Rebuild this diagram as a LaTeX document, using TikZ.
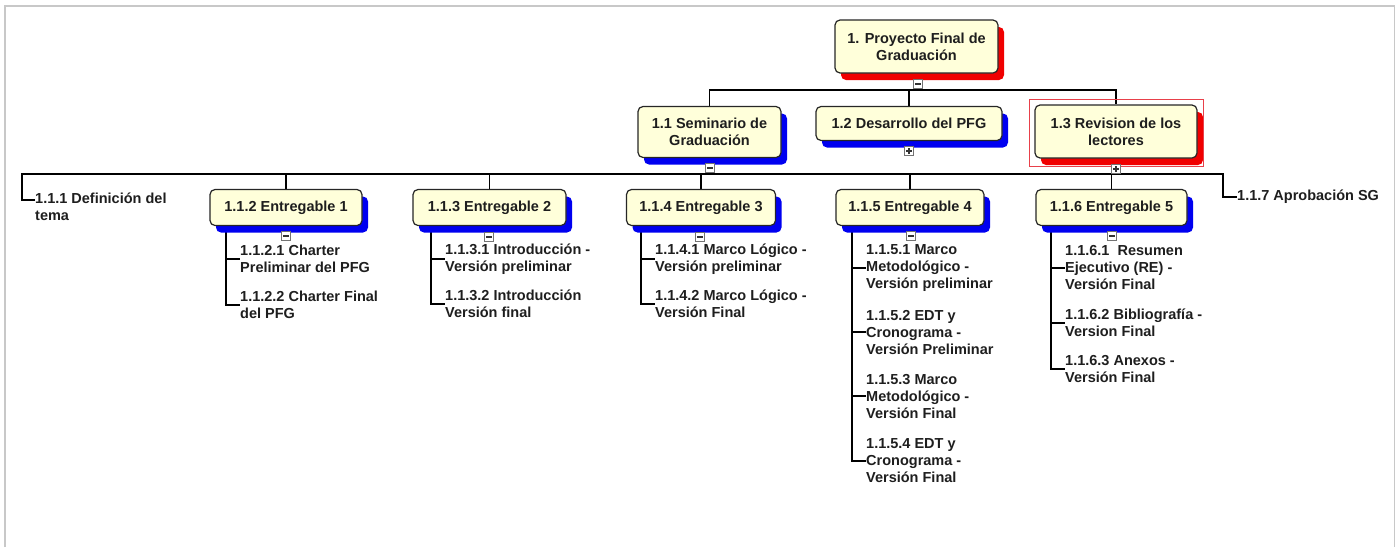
\documentclass[tikz,border=0pt]{standalone}
\usepackage{fontspec}
\setmainfont{Liberation Sans}
\usetikzlibrary{shadows,backgrounds}
\definecolor{boxfill}{RGB}{255,255,218}
\definecolor{shblue}{RGB}{0,0,240}
\definecolor{shred}{RGB}{240,0,0}
\definecolor{framegray}{RGB}{200,200,200}
\definecolor{ink}{RGB}{30,30,30}
\definecolor{hilite}{RGB}{232,64,74}

\begin{document}
\begin{tikzpicture}[x=1pt,y=-1pt,
  every node/.style={font=\fontsize{14.5}{17}\selectfont\bfseries, text=ink},
  wbsbox/.style={draw=black!85, line width=1.2pt, rounded corners=5pt,
    fill=boxfill, align=center, inner sep=0pt},
  blueshadow/.style={drop shadow={shadow xshift=6pt, shadow yshift=-7pt,
    fill=shblue, opacity=1}},
  redshadow/.style={drop shadow={shadow xshift=6pt, shadow yshift=-7pt,
    fill=shred, opacity=1}},
  leaf/.style={align=left, inner sep=0pt, anchor=west},
  link/.style={line width=1.5pt, draw=black},
  marker/.style={rectangle, draw=black!55, fill=white, line width=0.7pt,
    minimum size=9pt, inner sep=0pt},
  minusmark/.style={marker, path picture={
    \draw[black!80, line width=1.1pt]
      ([xshift=-3pt]path picture bounding box.center) --
      ([xshift=3pt]path picture bounding box.center);}},
  plusmark/.style={marker, path picture={
    \draw[black!80, line width=1.1pt]
      ([xshift=-3pt]path picture bounding box.center) --
      ([xshift=3pt]path picture bounding box.center)
      ([yshift=-3pt]path picture bounding box.center) --
      ([yshift=3pt]path picture bounding box.center);}}
]
\useasboundingbox (0,0) rectangle (1395,547);

% window frame
\draw[framegray, line width=2pt] (5,547) -- (5,6) -- (1395,6);
\draw[framegray, line width=1pt] (1394,6) -- (1394,547);

% level 0 and 1
\node[wbsbox, redshadow, minimum width=163pt, minimum height=53pt]
  (n1) at (916.5,46.5) {1. Proyecto Final de\\Graduación};
\node[wbsbox, blueshadow, minimum width=143pt, minimum height=51pt]
  (n11) at (709.5,132) {1.1 Seminario de\\Graduación};
\node[wbsbox, blueshadow, minimum width=186pt, minimum height=34pt]
  (n12) at (909,123.5) {1.2 Desarrollo del PFG};
\node[wbsbox, redshadow, minimum width=162pt, minimum height=53pt]
  (n13) at (1116,131.5) {1.3 Revision de los\\lectores};
\draw[hilite, line width=1.2pt]
  ([xshift=-5pt,yshift=5pt]n13.north west) rectangle
  ([xshift=6pt,yshift=-8pt]n13.south east);

\node[minusmark] (m1) at (918,84) {};
\node[minusmark] (m11) at (710,168) {};
\node[plusmark] (m12) at (909,151) {};
\node[plusmark] (m13) at (1116,169) {};

% level 2 boxes
\node[wbsbox, blueshadow, minimum width=152pt, minimum height=36pt]
  (n112) at (286,207.5) {1.1.2 Entregable 1};
\node[wbsbox, blueshadow, minimum width=153pt, minimum height=36pt]
  (n113) at (489.5,207.5) {1.1.3 Entregable 2};
\node[wbsbox, blueshadow, minimum width=149pt, minimum height=36pt]
  (n114) at (701,207.5) {1.1.4 Entregable 3};
\node[wbsbox, blueshadow, minimum width=148pt, minimum height=36pt]
  (n115) at (910,207.5) {1.1.5 Entregable 4};
\node[wbsbox, blueshadow, minimum width=151pt, minimum height=36pt]
  (n116) at (1111.5,207.5) {1.1.6 Entregable 5};

\node[minusmark] (m112) at (286,236) {};
\node[minusmark] (m113) at (489,237) {};
\node[minusmark] (m114) at (700,237) {};
\node[minusmark] (m115) at (911,236) {};
\node[minusmark] (m116) at (1112,236) {};

% level 2 plain items
\node[leaf] (n111) at (35,207) {1.1.1 Definición del\\tema};
\node[leaf] (n117) at (1237,197) {1.1.7 Aprobación SG};

% level 3 items
\node[leaf] (c1121) at (240,259) {1.1.2.1 Charter\\Preliminar del PFG};
\node[leaf] (c1122) at (240,305) {1.1.2.2 Charter Final\\del PFG};
\node[leaf] (c1131) at (445,259) {1.1.3.1 Introducción -\\Versión preliminar};
\node[leaf] (c1132) at (445,304) {1.1.3.2 Introducción\\Versión final};
\node[leaf] (c1141) at (655,259) {1.1.4.1 Marco Lógico -\\Versión preliminar};
\node[leaf] (c1142) at (655,304) {1.1.4.2 Marco Lógico -\\Versión Final};
\node[leaf] (c1151) at (866,268) {1.1.5.1 Marco\\Metodológico -\\Versión preliminar};
\node[leaf] (c1152) at (866,332) {1.1.5.2 EDT y\\Cronograma -\\Versión Preliminar};
\node[leaf] (c1153) at (866,396) {1.1.5.3 Marco\\Metodológico -\\Versión Final};
\node[leaf] (c1154) at (866,461) {1.1.5.4 EDT y\\Cronograma -\\Versión Final};
\node[leaf] (c1161) at (1065,268) {1.1.6.1\ \ Resumen\\Ejecutivo (RE) -\\Versión Final};
\node[leaf] (c1162) at (1065,323) {1.1.6.2 Bibliografía -\\Version Final};
\node[leaf] (c1163) at (1065,369) {1.1.6.3 Anexos -\\Versión Final};

% bar junctions and child spines
\coordinate (bar1) at (918,90);
\coordinate (bar2) at (710,174);
\coordinate (bar2l) at (22,174);
\coordinate (bar2r) at (1223,174);
\coordinate (s112) at (226,226);
\coordinate (s113) at (431,226);
\coordinate (s114) at (641,226);
\coordinate (s115) at (852,226);
\coordinate (s116) at (1051,226);

\begin{scope}[on background layer]
  % level 1 connectors
  \draw[link] (n11.north) |- (bar1) -| (n13.north);
  \draw[link] (m1.south) -- (bar1);
  \draw[link] (n12.north) -- (n12.north |- bar1);
  % level 2 connectors
  \draw[link] ([yshift=7pt]n111.west) -| (bar2l) -- (bar2r) |- (n117.west);
  \draw[link] (m11.south) -- (bar2);
  \draw[link] (m13.south) -- (m13.south |- bar2);
  \foreach \b in {n112,n113,n114,n115,n116}
    \draw[link] (\b.north) -- (\b.north |- bar2);
  % level 3 connectors
  \foreach \c in {c1121,c1122} \draw[link] (s112) |- (\c.west);
  \foreach \c in {c1131,c1132} \draw[link] (s113) |- (\c.west);
  \foreach \c in {c1141,c1142} \draw[link] (s114) |- (\c.west);
  \foreach \c in {c1151,c1152,c1153,c1154} \draw[link] (s115) |- (\c.west);
  \foreach \c in {c1161,c1162,c1163} \draw[link] (s116) |- (\c.west);
\end{scope}
\end{tikzpicture}
\end{document}
